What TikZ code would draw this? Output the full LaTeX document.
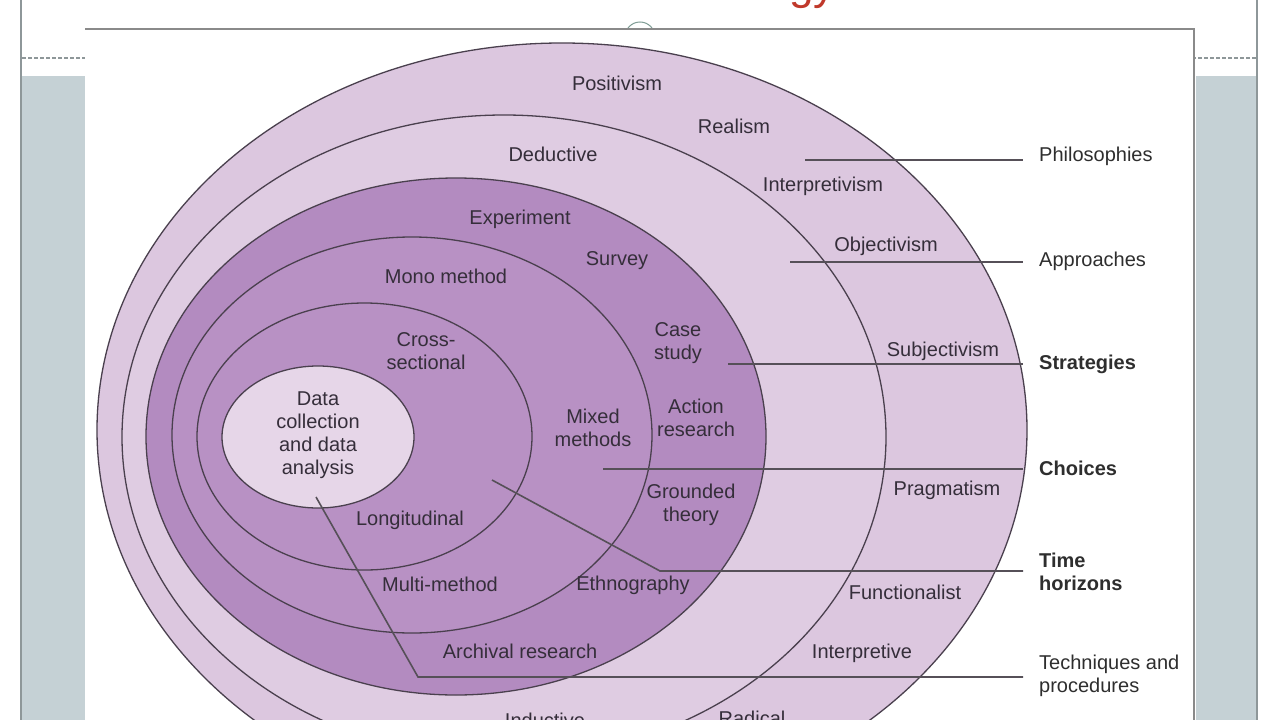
\documentclass[tikz,border=0pt]{standalone}
\usepackage{fontspec}
\setmainfont{Liberation Sans}
\definecolor{sidegray}{HTML}{C5D1D5}
\definecolor{framegray}{HTML}{8E9799}
\definecolor{panelline}{HTML}{8A8A8A}
\definecolor{ringlight}{HTML}{DCC7DF}
\definecolor{ringmid}{HTML}{DFCCE2}
\definecolor{ringdark}{HTML}{B38BC0}
\definecolor{ringdarker}{HTML}{B891C4}
\definecolor{corefill}{HTML}{E6D6E8}
\definecolor{ringline}{HTML}{4A404E}
\definecolor{leadline}{HTML}{565058}
\definecolor{txt}{HTML}{352E3A}
\definecolor{sidetxt}{HTML}{2E2E2E}
\definecolor{titlered}{HTML}{C0392B}
\definecolor{knob}{HTML}{7E9C94}
\tikzset{
  ring/.style={draw=ringline, line width=1.3pt},
  lbl/.style={font=\fontsize{20}{23}\selectfont, text=txt, align=center, inner sep=0pt},
  side/.style={font=\fontsize{20}{23}\selectfont, text=sidetxt, align=left, anchor=west, inner xsep=16pt, inner ysep=0pt},
  sideb/.style={side, font=\fontsize{20}{23}\selectfont\bfseries},
  leader/.style={draw=leadline, line width=1.6pt},
}
\begin{document}
\begin{tikzpicture}[x=1pt,y=-1pt]
\useasboundingbox (0,0) rectangle (1280,720);
% slide background
\fill[white] (0,0) rectangle (1280,720);
\fill[sidegray] (22,76) rectangle (85,720);
\fill[sidegray] (1196,76) rectangle (1256,720);
\draw[framegray, line width=1.5pt] (21,0) -- (21,720);
\draw[framegray, line width=1.5pt] (1257,0) -- (1257,720);
\draw[framegray, line width=1.2pt, dash pattern=on 4pt off 2pt] (22,58) -- (1256,58);
\node[font=\fontsize{44}{48}\selectfont, text=titlered, anchor=base east, inner sep=0pt] (title) at (836,-1) {Methodology};
\draw[knob, line width=1pt, fill=white] (640,37) circle (15pt);
% panel
\fill[white] (85,29) rectangle (1194,725);
\draw[panelline, line width=1.8pt] (85,29) -- (1194,29) -- (1194,725);
% onion rings
\filldraw[ring, fill=ringlight] (562,430) ellipse [x radius=465pt, y radius=387pt];
\filldraw[ring, fill=ringmid] (504,437) ellipse [x radius=382pt, y radius=322pt];
\filldraw[ring, fill=ringdark] (456,436.5) ellipse [x radius=310pt, y radius=258.5pt];
\filldraw[ring, fill=ringdarker] (412,435) ellipse [x radius=240pt, y radius=198pt];
\filldraw[ring, fill=ringdarker] (364.5,436.5) ellipse [x radius=167.5pt, y radius=133.5pt];
\filldraw[ring, fill=corefill] (318,437) ellipse [x radius=96pt, y radius=71pt];
% ring labels
\node[lbl] (positivism) at (617,83) {Positivism};
\node[lbl] (realism) at (734,126) {Realism};
\node[lbl] (deductive) at (553,154) {Deductive};
\node[lbl] (interpretivism) at (823,186) {Interpretivism};
\node[lbl] (objectivism) at (886,246) {Objectivism};
\node[lbl] (subjectivism) at (943,351) {Subjectivism};
\node[lbl] (pragmatism) at (947,490) {Pragmatism};
\node[lbl] (functionalist) at (905,592) {Functionalist};
\node[lbl] (interpretive) at (862,653) {Interpretive};
\node[lbl] (inductive) at (545,720) {Inductive};
\node[lbl] (radical) at (752,718) {Radical};
\node[lbl] (experiment) at (520,219) {Experiment};
\node[lbl] (survey) at (617,261) {Survey};
\node[lbl] (mono) at (446,276) {Mono method};
\node[lbl] (case) at (678,343) {Case\\study};
\node[lbl] (cross) at (426,351) {Cross-\\sectional};
\node[lbl] (mixed) at (593,428) {Mixed\\methods};
\node[lbl] (action) at (696,418) {Action\\research};
\node[lbl] (core) at (318,435) {Data\\collection\\and data\\analysis};
\node[lbl] (grounded) at (691,505) {Grounded\\theory};
\node[lbl] (longit) at (410,520) {Longitudinal};
\node[lbl] (multi) at (440,584) {Multi-method};
\node[lbl] (ethno) at (633,585) {Ethnography};
\node[lbl] (archival) at (520,651) {Archival research};
% layer labels
\node[side] (philo) at (1023,156) {Philosophies};
\node[side] (approaches) at (1023,261) {Approaches};
\node[sideb] (strategies) at (1023,364) {Strategies};
\node[sideb] (choices) at (1023,468) {Choices};
\node[sideb] (timeh) at (1023,572) {Time\\horizons};
\node[side] (techn) at (1023,676) {Techniques and\\procedures};
% leaders
\coordinate (pA) at (805,160);
\coordinate (aA) at (790,262);
\coordinate (sA) at (728,364);
\coordinate (cA) at (603,469);
\coordinate (tA) at (492,480);
\coordinate (tB) at (660,571);
\coordinate (qA) at (316,497);
\coordinate (qB) at (418,677);
\draw[leader] (pA) -- (pA -| philo.west);
\draw[leader] (aA) -- (aA -| approaches.west);
\draw[leader] (sA) -- (sA -| strategies.west);
\draw[leader] (cA) -- (cA -| choices.west);
\draw[leader] (tA) -- (tB) -- (tB -| timeh.west);
\draw[leader] (qA) -- (qB) -- (qB -| techn.west);
\end{tikzpicture}
\end{document}
